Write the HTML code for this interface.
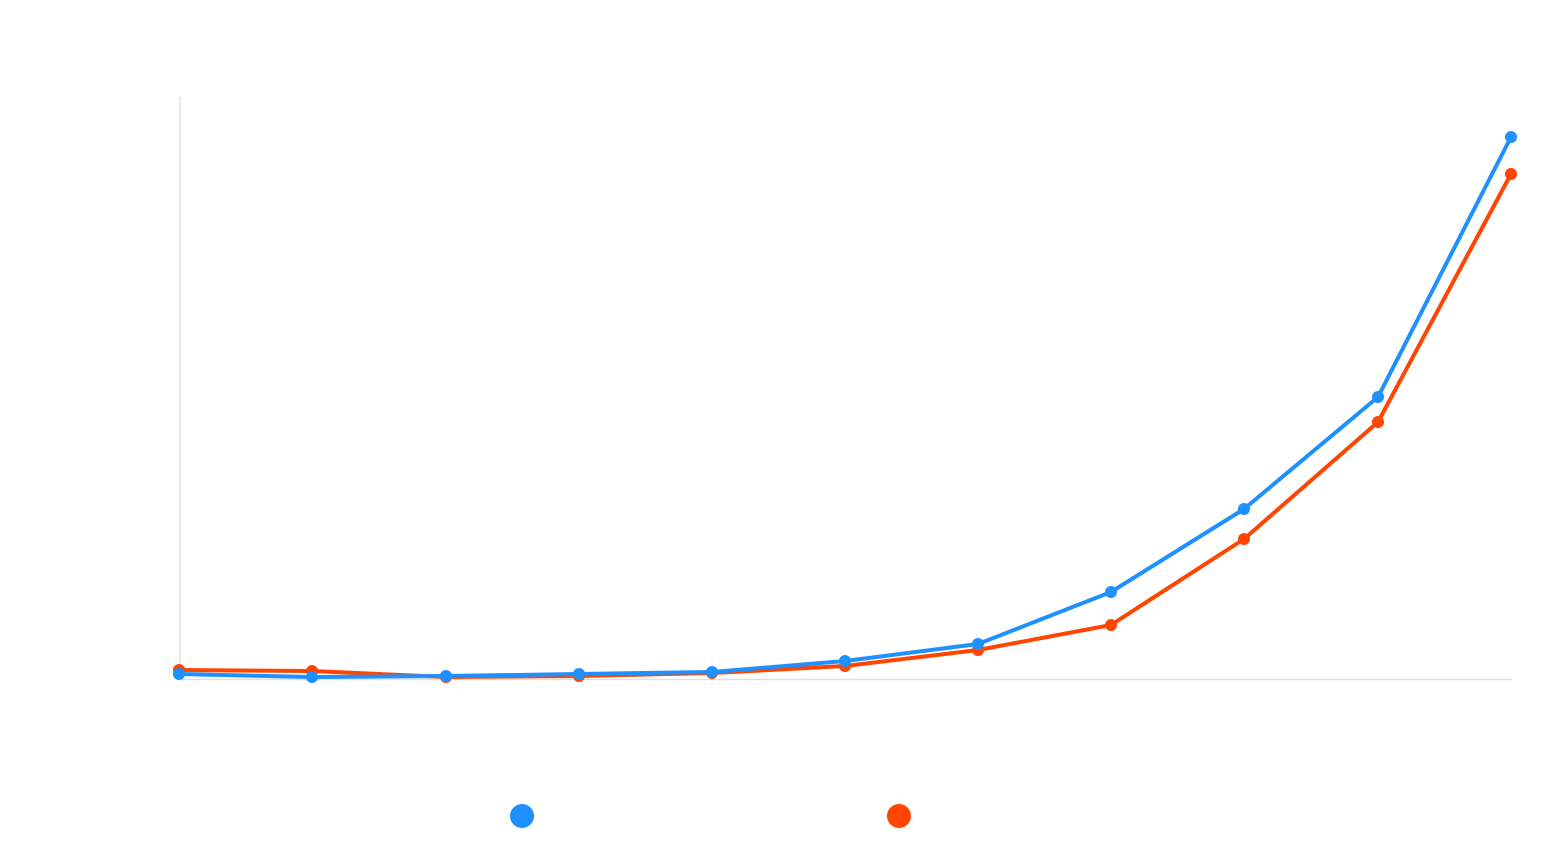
<!DOCTYPE html>
<html><head><meta charset="utf-8"><style>html,body{margin:0;padding:0;background:#fff;}svg{display:block}</style></head>
<body>
<svg width="1564" height="850" viewBox="0 0 1564 850" xmlns="http://www.w3.org/2000/svg">
<line x1="180" y1="97" x2="180" y2="679" stroke="#e0e0e0" stroke-width="1.5"/>
<line x1="180" y1="679.5" x2="1512" y2="679.5" stroke="#e0e0e0" stroke-width="1.5"/>
<g fill="#ff4500" stroke="#ff4500">
<polyline fill="none" stroke-width="4" stroke-linejoin="round" points="179,670 312,671 446,677 579,676 712,673 845,666 978,650 1111,625 1244,539 1378,422 1511,174"/>
<g stroke="none">
<circle cx="179" cy="670" r="6"/><circle cx="312" cy="671" r="6"/><circle cx="446" cy="677" r="6"/><circle cx="579" cy="676" r="6"/><circle cx="712" cy="673" r="6"/><circle cx="845" cy="666" r="6"/><circle cx="978" cy="650" r="6"/><circle cx="1111" cy="625" r="6"/><circle cx="1244" cy="539" r="6"/><circle cx="1378" cy="422" r="6"/><circle cx="1511" cy="174" r="6"/>
</g></g>
<g fill="#1e90ff" stroke="#1e90ff">
<polyline fill="none" stroke-width="4" stroke-linejoin="round" points="179,674 312,677 446,676 579,674 712,672 845,661 978,644 1111,592 1244,509 1378,397 1511,137"/>
<g stroke="none">
<circle cx="179" cy="674" r="6"/><circle cx="312" cy="677" r="6"/><circle cx="446" cy="676" r="6"/><circle cx="579" cy="674" r="6"/><circle cx="712" cy="672" r="6"/><circle cx="845" cy="661" r="6"/><circle cx="978" cy="644" r="6"/><circle cx="1111" cy="592" r="6"/><circle cx="1244" cy="509" r="6"/><circle cx="1378" cy="397" r="6"/><circle cx="1511" cy="137" r="6"/>
</g></g>
<circle cx="522" cy="816" r="12" fill="#1e90ff"/>
<circle cx="899" cy="816" r="12" fill="#ff4500"/>
</svg>
</body></html>
